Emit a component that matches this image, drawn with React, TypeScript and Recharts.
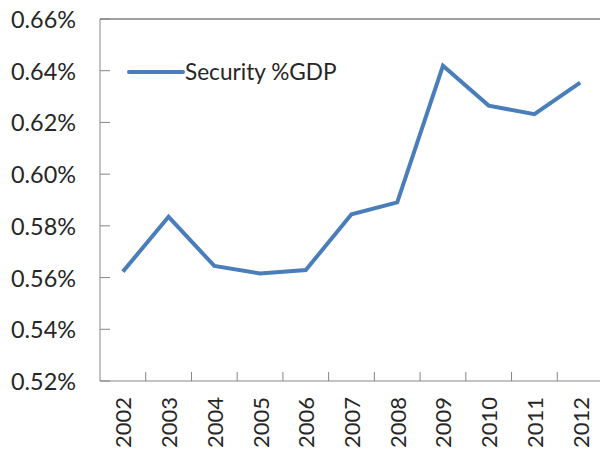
import React from "react";
import { LineChart, Line, XAxis, YAxis, ReferenceLine, Legend } from "recharts";

const years = ["2002", "2003", "2004", "2005", "2006", "2007", "2008", "2009", "2010", "2011", "2012"];
const securityGdp = [0.5623, 0.5835, 0.5645, 0.5616, 0.5629, 0.5845, 0.5891, 0.6419, 0.6265, 0.6232, 0.6354];
const yTicks = [0.52, 0.54, 0.56, 0.58, 0.6, 0.62, 0.64, 0.66];
const seriesName = "Security %GDP";

const data = years.map((y, i) => ({ year: y, value: securityGdp[i] }));

const FONT = "Lato, 'Open Sans', sans-serif";
const TEXT = "#262626";
const AXIS = "#868686";
const BLUE = "#4A7EBB";

const YTick = (props: any) => {
  const { x, y, payload } = props;
  return (
    <g>
      <line x1={x} y1={y} x2={x + 10} y2={y} stroke={AXIS} strokeWidth={1} />
      <text x={x - 24} y={y} textAnchor="end" dominantBaseline="central" fontFamily={FONT} fontSize={23.4} fill={TEXT}>
        {payload.value.toFixed(2) + "%"}
      </text>
    </g>
  );
};

const XTick = (props: any) => {
  const { x, y, payload, width, visibleTicksCount } = props;
  const band = width / visibleTicksCount;
  return (
    <g>
      <line x1={x + band / 2} y1={y} x2={x + band / 2} y2={y - 9} stroke={AXIS} strokeWidth={1} />
      <text
        x={0}
        y={0}
        transform={`translate(${x},${y + 16}) rotate(-90)`}
        textAnchor="end"
        dominantBaseline="central"
        fontFamily={FONT}
        fontSize={22}
        fill={TEXT}
      >
        {payload.value}
      </text>
    </g>
  );
};

const LegendContent = () => (
  <div style={{ display: "flex", alignItems: "center", fontFamily: FONT, fontSize: 22.6, color: TEXT, whiteSpace: "nowrap" }}>
    <svg width={58} height={10}>
      <line x1={2} y1={5} x2={56} y2={5} stroke={BLUE} strokeWidth={4} strokeLinecap="round" />
    </svg>
    <span>{seriesName}</span>
  </div>
);

export default function App() {
  return (
    <div style={{ position: "absolute", left: 0, top: 0, width: 600, height: 455, overflow: "hidden", background: "#fff" }}>
      <LineChart width={604} height={455} data={data} margin={{ top: 19, right: 1, bottom: 0, left: 0 }}>
        <XAxis
          dataKey="year"
          scale="band"
          height={74}
          interval={0}
          tickSize={0}
          tickMargin={0}
          tick={<XTick />}
          axisLine={{ stroke: AXIS, strokeWidth: 1 }}
          tickLine={false}
        />
        <YAxis
          width={100}
          domain={[0.52, 0.66]}
          ticks={yTicks}
          interval={0}
          tickSize={0}
          tickMargin={0}
          tick={<YTick />}
          axisLine={{ stroke: AXIS, strokeWidth: 1 }}
          tickLine={false}
          allowDataOverflow
        />
        <ReferenceLine y={0.66} stroke="#404040" strokeWidth={1} />
        <Legend
          content={<LegendContent />}
          verticalAlign="middle"
          align="center"
          layout="horizontal"
          wrapperStyle={{ position: "absolute", left: 127, top: 58, width: "auto" }}
        />
        <Line
          type="linear"
          dataKey="value"
          name={seriesName}
          stroke={BLUE}
          strokeWidth={4}
          dot={false}
          activeDot={false}
          isAnimationActive={false}
        />
      </LineChart>
    </div>
  );
}
